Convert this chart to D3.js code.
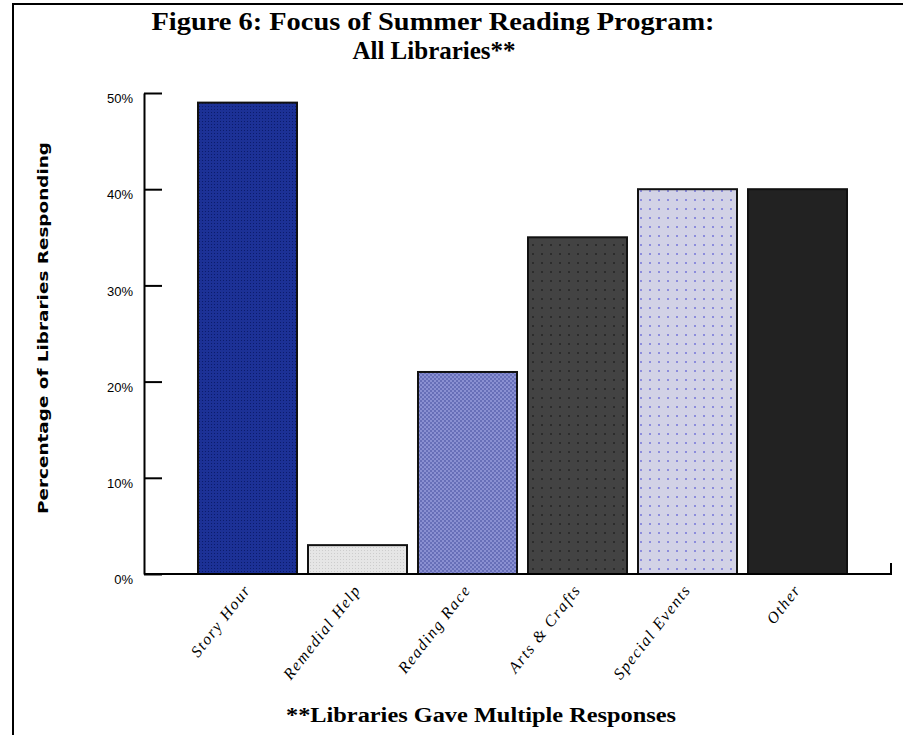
<!DOCTYPE html>
<html>
<head>
<meta charset="utf-8">
<script src="https://cdn.jsdelivr.net/npm/d3@7"></script>
<style>
  body { margin: 0; background: #fff; }
  svg { display: block; }
</style>
</head>
<body>
<div id="chart"></div>
<script>
// data
const categories = ["Story Hour", "Remedial Help", "Reading Race", "Arts & Crafts", "Special Events", "Other"];
const values = [49, 3, 21, 35, 40, 40];
const yTicks = [0, 10, 20, 30, 40, 50];
const fills = ["url(#pStory)", "url(#pRemedial)", "url(#pRace)", "url(#pArts)", "url(#pSpecial)", "#222222"];

const width = 903;
const height = 735;

let svg = d3.select("#chart")
    .append("svg")
    .attr("width", width)
    .attr("height", height);

// patterns for the bars
const defs = svg.append("defs");

function dotPattern(id, size, base, dot, r) {
    let p = defs.append("pattern")
        .attr("id", id)
        .attr("width", size)
        .attr("height", size)
        .attr("patternUnits", "userSpaceOnUse");
    p.append("rect").attr("width", size).attr("height", size).attr("fill", base);
    p.append("rect").attr("x", 1).attr("y", 1).attr("width", r).attr("height", r).attr("fill", dot);
}
dotPattern("pStory", 3, "#1c3196", "#0b1c6c", 1);
dotPattern("pRemedial", 3, "#e6e6e6", "#cdcdcd", 1);
dotPattern("pArts", 9, "#434343", "#2c2c2c", 2);
dotPattern("pSpecial", 9, "#d2d2e6", "#8c8cdc", 2);

// checker for reading race
let race = defs.append("pattern")
    .attr("id", "pRace")
    .attr("width", 4)
    .attr("height", 4)
    .attr("patternUnits", "userSpaceOnUse");
race.append("rect").attr("width", 4).attr("height", 4).attr("fill", "#8a90d2");
race.append("rect").attr("width", 2).attr("height", 2).attr("fill", "#676fb8");
race.append("rect").attr("x", 2).attr("y", 2).attr("width", 2).attr("height", 2).attr("fill", "#676fb8");

// frame lines at left and top
svg.append("path")
    .attr("d", "M13,735 V4 H903")
    .attr("fill", "none")
    .attr("stroke", "#000")
    .attr("stroke-width", 2);

// scales
const x = d3.scaleBand()
    .domain(categories)
    .range([198, 847])
    .paddingInner(0.1)
    .paddingOuter(0);

const y = d3.scaleLinear()
    .domain([0, 50])
    .range([574, 93]);

// y axis, ticks pointing inward
let yAxis = svg.append("g")
    .attr("transform", "translate(144,0)")
    .call(d3.axisLeft(y)
        .tickValues(yTicks)
        .tickFormat(d => d + "%")
        .tickSizeInner(-18)
        .tickSizeOuter(0)
        .tickPadding(11));
yAxis.select(".domain").attr("stroke-width", 2);
yAxis.selectAll(".tick line").attr("stroke-width", 2);
yAxis.selectAll(".tick text")
    .attr("dy", "0.75em")
    .attr("font-family", "Liberation Sans, Arial, sans-serif")
    .attr("font-size", 13)
    .attr("fill", "#000");

// bars
svg.append("g")
    .selectAll("rect")
    .data(values)
    .join("rect")
    .attr("x", (d, i) => x(categories[i]))
    .attr("y", d => y(d))
    .attr("width", x.bandwidth())
    .attr("height", d => y(0) - y(d))
    .attr("fill", (d, i) => fills[i])
    .attr("stroke", "#111")
    .attr("stroke-width", 2);

// x baseline with the small end tick
svg.append("path")
    .attr("d", "M144," + y(0) + " H891 V" + (y(0) - 11))
    .attr("fill", "none")
    .attr("stroke", "#000")
    .attr("stroke-width", 2);

// category labels
svg.append("g")
    .selectAll("text")
    .data(categories)
    .join("text")
    .attr("transform", d => "translate(" + (x(d) + x.bandwidth() / 2 + 4) + ",590) rotate(-52)")
    .attr("text-anchor", "end")
    .attr("font-family", "Liberation Serif, serif")
    .attr("font-style", "italic")
    .attr("font-size", 16)
    .attr("letter-spacing", 1.5)
    .text(d => d);

// title
svg.append("text")
    .attr("x", 433)
    .attr("y", 30)
    .attr("text-anchor", "middle")
    .attr("font-family", "Liberation Serif, serif")
    .attr("font-weight", "bold")
    .attr("font-size", 25)
    .attr("textLength", 563)
    .attr("lengthAdjust", "spacingAndGlyphs")
    .text("Figure 6: Focus of Summer Reading Program:");

svg.append("text")
    .attr("x", 434)
    .attr("y", 59)
    .attr("text-anchor", "middle")
    .attr("font-family", "Liberation Serif, serif")
    .attr("font-weight", "bold")
    .attr("font-size", 25)
    .text("All Libraries**");

// y axis title
svg.append("text")
    .attr("transform", "translate(48,328) rotate(-90)")
    .attr("text-anchor", "middle")
    .attr("font-family", "DejaVu Sans, sans-serif")
    .attr("font-weight", "bold")
    .attr("font-size", 14)
    .attr("textLength", 372)
    .attr("lengthAdjust", "spacingAndGlyphs")
    .text("Percentage of Libraries Responding");

// footnote
svg.append("text")
    .attr("x", 481)
    .attr("y", 722)
    .attr("text-anchor", "middle")
    .attr("font-family", "Liberation Serif, serif")
    .attr("font-weight", "bold")
    .attr("font-size", 20)
    .attr("textLength", 390)
    .attr("lengthAdjust", "spacingAndGlyphs")
    .text("**Libraries Gave Multiple Responses");
</script>
</body>
</html>
